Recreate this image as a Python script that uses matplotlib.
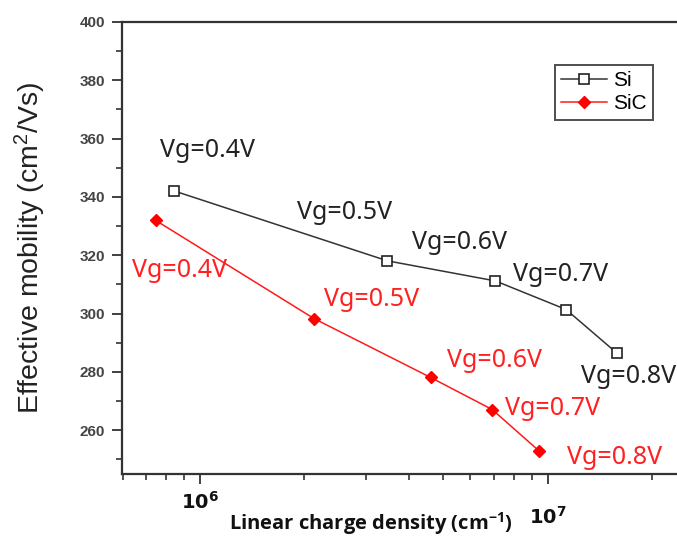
"""Effective mobility vs linear charge density for Si and SiC channels."""

import matplotlib

matplotlib.use("Agg")

import matplotlib.pyplot as plt
import matplotlib.transforms as mtransforms
from matplotlib.ticker import FixedLocator, LogLocator, NullFormatter

plt.rcParams["mathtext.default"] = "regular"

# data
gate_voltages = ["Vg=0.4V", "Vg=0.5V", "Vg=0.6V", "Vg=0.7V", "Vg=0.8V"]
si_density = [8.42e5, 3.46e6, 7.08e6, 1.13e7, 1.58e7]
si_mobility = [342.1, 318.1, 311.2, 301.4, 286.5]
sic_density = [7.46e5, 2.13e6, 4.61e6, 6.93e6, 9.43e6]
sic_mobility = [332.0, 298.3, 278.1, 267.1, 253.0]

# label offsets from each point (points): left edge / vertical centre
si_offsets = [(-10, 29), (-65, 35), (-60, 28), (-38, 25), (-26, -17)]
sic_offsets = [(-17, -36), (7, 14), (12, 12), (9, 1), (20, -5)]

fig = plt.figure(figsize=(6.77, 5.36), dpi=100)
ax = fig.add_axes([0.180, 0.1157, 0.82, 0.8433])

ax.plot(si_density, si_mobility, color="#333333", lw=1.1, marker="s",
        markersize=6.5, markerfacecolor="white", markeredgecolor="#222222",
        markeredgewidth=1.2, label="Si")
ax.plot(sic_density, sic_mobility, color="#ff1a1a", lw=1.1, marker="D",
        markersize=6.5, markerfacecolor="#ff0000", markeredgecolor="#ff0000",
        label="SiC")

label_font = dict(family="Noto Sans", fontsize=18)
for x, y, text, off in zip(si_density, si_mobility, gate_voltages, si_offsets):
    ax.annotate(text, (x, y), xytext=off, textcoords="offset points",
                ha="left", va="center", color="#222222", **label_font)
for x, y, text, off in zip(sic_density, sic_mobility, gate_voltages, sic_offsets):
    ax.annotate(text, (x, y), xytext=off, textcoords="offset points",
                ha="left", va="center", color="#ff2020", **label_font)

ax.set_xscale("log")
ax.set_xlim(5.97e5, 2.355e7)
ax.set_ylim(245, 400)

ax.xaxis.set_major_locator(FixedLocator([1e6, 1e7]))
ax.set_xticklabels([r"$\mathbf{10^{6}}$", r"$\mathbf{10^{7}}$"])
ax.xaxis.set_minor_locator(LogLocator(base=10, subs=range(2, 10)))
ax.xaxis.set_minor_formatter(NullFormatter())
ax.set_yticks(range(260, 401, 20))
ax.yaxis.set_minor_locator(FixedLocator(range(250, 400, 20)))

ax.tick_params(axis="both", which="major", direction="out", length=7,
               width=1.3, color="#333333")
ax.tick_params(axis="both", which="minor", direction="out", length=4,
               width=1.2, color="#333333")
ax.tick_params(axis="y", which="major", pad=5, labelsize=11, labelcolor="#444444")
ax.tick_params(axis="x", which="major", pad=5, labelsize=14, labelcolor="#111111")
for lab in ax.get_yticklabels():
    lab.set_fontweight("bold")
    lab.set_family("Liberation Sans")

# the 10^7 label sits a bit lower in the reference
ax.get_xticklabels()[1].set_transform(
    ax.get_xticklabels()[1].get_transform()
    + mtransforms.ScaledTranslation(0, -15 / 100, fig.dpi_scale_trans))

for side in ("left", "bottom", "top"):
    ax.spines[side].set_linewidth(1.6)
    ax.spines[side].set_color("#333333")
ax.spines["right"].set_visible(False)

ax.set_ylabel("Effective mobility (cm$^2$/Vs)", family="Liberation Sans",
              fontsize=20.5, color="#222222")
ax.yaxis.set_label_coords(-0.133, 0.5)
ax.set_xlabel("Linear charge density (cm$^{-1}$)", family="Open Sans",
              fontweight="bold", fontsize=14.5, color="#111111")
ax.xaxis.set_label_coords(0.448, -0.079)

leg = ax.legend(loc="upper left", bbox_to_anchor=(0.78, 0.905), frameon=True,
                fancybox=False, shadow=False, edgecolor="#222222",
                prop={"family": "Liberation Sans", "size": 15},
                handlelength=2.2, handletextpad=0.3, borderpad=0.3,
                labelspacing=0.2, borderaxespad=0)
leg.get_frame().set_linewidth(1.4)

fig.savefig("out.png", dpi=100)
